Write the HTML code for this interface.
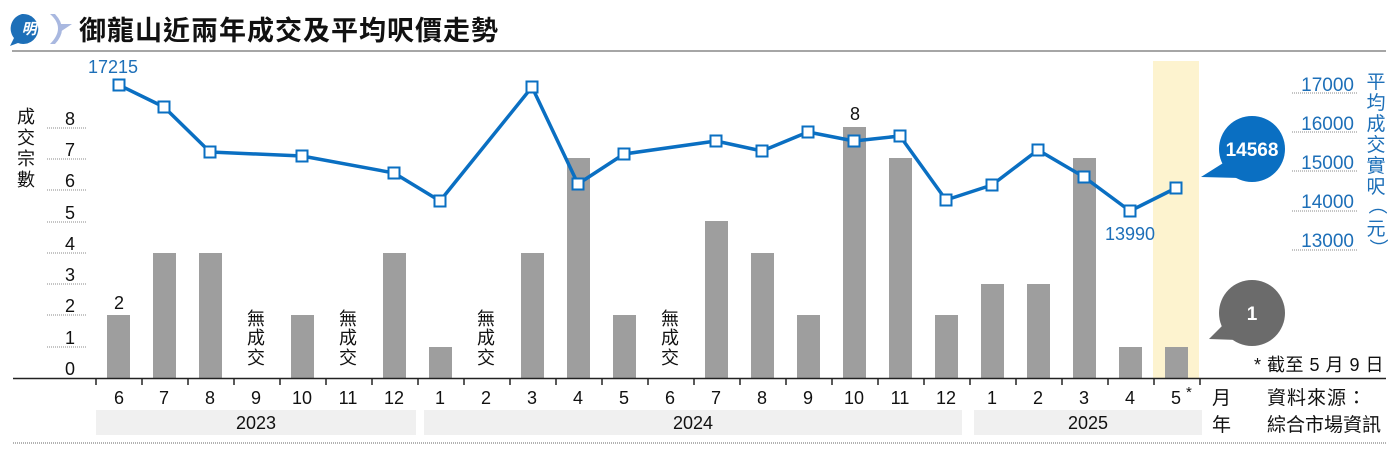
<!DOCTYPE html>
<html><head><meta charset="utf-8"><style>
html,body{margin:0;padding:0;background:#fff;}
svg{display:block;font-family:"Liberation Sans","Noto Sans CJK TC",sans-serif;}
</style></head><body>
<svg width="1400" height="455" viewBox="0 0 1400 455" xmlns="http://www.w3.org/2000/svg">
<!-- header -->
<path d="M22 14 a15 15 0 1 1 -4 29 l-8 3 l4 -8 a15 15 0 0 1 8 -24z" fill="#1d6fb8"/>
<text x="29" y="34" font-size="15" font-weight="bold" fill="#fff" text-anchor="middle" font-style="italic">明</text>
<path d="M50 14 q16 14 0 30 l5 0 q14 -15 0 -30z" fill="#a9b8e0"/>
<path d="M60 24 l12 0 l-12 8z" fill="#a9b8e0"/>
<text x="79" y="40" font-size="27" font-weight="bold" fill="#111" letter-spacing="1">御龍山近兩年成交及平均呎價走勢</text>
<line x1="12" y1="51" x2="1386" y2="51" stroke="#888" stroke-width="1.5"/>
<!-- highlight -->
<rect x="1153" y="61" width="46" height="317" fill="#fdf3cf"/>
<!-- left axis -->
<g font-size="18" fill="#111" text-anchor="middle">
<text x="26" y="123">成</text><text x="26" y="144">交</text><text x="26" y="165">宗</text><text x="26" y="186">數</text>
</g>
<g stroke="#888" stroke-width="1" stroke-dasharray="1,1">
<line x1="47" y1="128" x2="86" y2="128"/><line x1="47" y1="159" x2="86" y2="159"/><line x1="47" y1="190" x2="86" y2="190"/><line x1="47" y1="222" x2="86" y2="222"/><line x1="47" y1="253" x2="86" y2="253"/><line x1="47" y1="284" x2="86" y2="284"/><line x1="47" y1="315" x2="86" y2="315"/><line x1="47" y1="347" x2="86" y2="347"/>
</g>
<g font-size="18" fill="#111" text-anchor="middle">
<text x="70" y="125">8</text><text x="70" y="156">7</text><text x="70" y="187">6</text><text x="70" y="219">5</text><text x="70" y="250">4</text><text x="70" y="281">3</text><text x="70" y="312">2</text><text x="70" y="344">1</text><text x="70" y="375">0</text>
</g>
<!-- bars -->
<g fill="#9e9e9e">
<rect x="107" y="315" width="23" height="63"/>
<rect x="153" y="253" width="23" height="125"/>
<rect x="199" y="253" width="23" height="125"/>
<rect x="291" y="315" width="23" height="63"/>
<rect x="383" y="253" width="23" height="125"/>
<rect x="429" y="347" width="23" height="31"/>
<rect x="521" y="253" width="23" height="125"/>
<rect x="567" y="158" width="23" height="220"/>
<rect x="613" y="315" width="23" height="63"/>
<rect x="705" y="221" width="23" height="157"/>
<rect x="751" y="253" width="23" height="125"/>
<rect x="797" y="315" width="23" height="63"/>
<rect x="843" y="127" width="23" height="251"/>
<rect x="889" y="158" width="23" height="220"/>
<rect x="935" y="315" width="23" height="63"/>
<rect x="981" y="284" width="23" height="94"/>
<rect x="1027" y="284" width="23" height="94"/>
<rect x="1073" y="158" width="23" height="220"/>
<rect x="1119" y="347" width="23" height="31"/>
<rect x="1165" y="347" width="23" height="31"/>
</g>
<g font-size="18" fill="#111" text-anchor="middle">
<text x="119" y="309">2</text><text x="855" y="120">8</text>
</g>
<g font-size="18" fill="#111" text-anchor="middle">
<text x="256" y="325">無</text><text x="256" y="344">成</text><text x="256" y="364">交</text>
<text x="348" y="325">無</text><text x="348" y="344">成</text><text x="348" y="364">交</text>
<text x="486" y="325">無</text><text x="486" y="344">成</text><text x="486" y="364">交</text>
<text x="670" y="325">無</text><text x="670" y="344">成</text><text x="670" y="364">交</text>
</g>
<!-- x axis -->
<line x1="13" y1="378.5" x2="1386" y2="378.5" stroke="#222" stroke-width="1.5"/>
<g stroke="#222" stroke-width="1.5">
<line x1="96" y1="378" x2="96" y2="385"/><line x1="142" y1="378" x2="142" y2="385"/><line x1="188" y1="378" x2="188" y2="385"/><line x1="234" y1="378" x2="234" y2="385"/><line x1="280" y1="378" x2="280" y2="385"/><line x1="326" y1="378" x2="326" y2="385"/><line x1="372" y1="378" x2="372" y2="385"/><line x1="418" y1="378" x2="418" y2="385"/><line x1="464" y1="378" x2="464" y2="385"/><line x1="510" y1="378" x2="510" y2="385"/><line x1="556" y1="378" x2="556" y2="385"/><line x1="602" y1="378" x2="602" y2="385"/><line x1="648" y1="378" x2="648" y2="385"/><line x1="694" y1="378" x2="694" y2="385"/><line x1="740" y1="378" x2="740" y2="385"/><line x1="786" y1="378" x2="786" y2="385"/><line x1="832" y1="378" x2="832" y2="385"/><line x1="878" y1="378" x2="878" y2="385"/><line x1="924" y1="378" x2="924" y2="385"/><line x1="970" y1="378" x2="970" y2="385"/><line x1="1016" y1="378" x2="1016" y2="385"/><line x1="1062" y1="378" x2="1062" y2="385"/><line x1="1108" y1="378" x2="1108" y2="385"/><line x1="1154" y1="378" x2="1154" y2="385"/><line x1="1200" y1="378" x2="1200" y2="385"/>
</g>
<g font-size="18" fill="#111" text-anchor="middle">
<text x="119" y="404">6</text><text x="164" y="404">7</text><text x="210" y="404">8</text><text x="256" y="404">9</text><text x="302" y="404">10</text><text x="348" y="404">11</text><text x="394" y="404">12</text><text x="440" y="404">1</text><text x="486" y="404">2</text><text x="532" y="404">3</text><text x="578" y="404">4</text><text x="624" y="404">5</text><text x="670" y="404">6</text><text x="716" y="404">7</text><text x="762" y="404">8</text><text x="808" y="404">9</text><text x="854" y="404">10</text><text x="900" y="404">11</text><text x="946" y="404">12</text><text x="992" y="404">1</text><text x="1038" y="404">2</text><text x="1084" y="404">3</text><text x="1130" y="404">4</text><text x="1176" y="404">5</text>
</g>
<text x="1186" y="397" font-size="15" fill="#111">*</text>
<text x="1212" y="404" font-size="19" fill="#111">月</text>
<text x="1212" y="431" font-size="19" fill="#111">年</text>
<g fill="#f0f0f0">
<rect x="96" y="410" width="320" height="25"/><rect x="424" y="410" width="538" height="25"/><rect x="974" y="410" width="228" height="25"/>
</g>
<g font-size="18" fill="#111" text-anchor="middle">
<text x="256" y="429">2023</text><text x="693" y="429">2024</text><text x="1088" y="429">2025</text>
</g>
<line x1="13" y1="443" x2="1386" y2="443" stroke="#999" stroke-width="1.5" stroke-dasharray="1,1"/>
<text x="1254" y="371" font-size="18" fill="#111" letter-spacing="0.5">* 截至 5 月 9 日</text>
<text x="1267" y="404" font-size="19" fill="#111" letter-spacing="1">資料來源：</text>
<text x="1267" y="431" font-size="19" fill="#111">綜合市場資訊</text>
<!-- right axis -->
<g stroke="#888" stroke-width="1" stroke-dasharray="1,1">
<line x1="1292" y1="93" x2="1358" y2="93"/><line x1="1292" y1="132" x2="1358" y2="132"/><line x1="1292" y1="171" x2="1358" y2="171"/><line x1="1292" y1="211" x2="1358" y2="211"/><line x1="1292" y1="250" x2="1358" y2="250"/>
</g>
<g font-size="19" fill="#1d6fb8" text-anchor="end">
<text x="1354" y="91">17000</text><text x="1354" y="130">16000</text><text x="1354" y="169">15000</text><text x="1354" y="208">14000</text><text x="1354" y="247">13000</text>
</g>
<g font-size="19" fill="#1d6fb8" text-anchor="middle">
<text x="1376" y="88">平</text><text x="1376" y="109">均</text><text x="1376" y="130">成</text><text x="1376" y="151">交</text><text x="1376" y="172">實</text><text x="1376" y="193">呎</text><text x="1376" y="210" transform="rotate(90 1376 205)">（</text><text x="1376" y="235">元</text><text x="1376" y="252" transform="rotate(90 1376 248)">）</text>
</g>
<!-- line -->
<polyline fill="none" stroke="#0a6fc2" stroke-width="3.5" stroke-linejoin="round" points="119,85 164,107 210,152 302,156 394,173 440,201 532,87 578,184 624,154 716,141 762,151 808,132 854,141 900,136 946,200 992,185 1038,150 1084,177 1130,211 1176,188"/>
<g fill="#fff" stroke="#0a6fc2" stroke-width="2">
<rect x="113.5" y="79.5" width="11" height="11"/><rect x="158.5" y="101.5" width="11" height="11"/><rect x="204.5" y="146.5" width="11" height="11"/><rect x="296.5" y="150.5" width="11" height="11"/><rect x="388.5" y="167.5" width="11" height="11"/><rect x="434.5" y="195.5" width="11" height="11"/><rect x="526.5" y="81.5" width="11" height="11"/><rect x="572.5" y="178.5" width="11" height="11"/><rect x="618.5" y="148.5" width="11" height="11"/><rect x="710.5" y="135.5" width="11" height="11"/><rect x="756.5" y="145.5" width="11" height="11"/><rect x="802.5" y="126.5" width="11" height="11"/><rect x="848.5" y="135.5" width="11" height="11"/><rect x="894.5" y="130.5" width="11" height="11"/><rect x="940.5" y="194.5" width="11" height="11"/><rect x="986.5" y="179.5" width="11" height="11"/><rect x="1032.5" y="144.5" width="11" height="11"/><rect x="1078.5" y="171.5" width="11" height="11"/><rect x="1124.5" y="205.5" width="11" height="11"/><rect x="1170.5" y="182.5" width="11" height="11"/>
</g>
<g font-size="18" fill="#1d6fb8" text-anchor="middle">
<text x="113" y="73">17215</text><text x="1130" y="240">13990</text>
</g>
<!-- bubbles -->
<path d="M1201 177 L1228 160 L1240 178z" fill="#0a6fc2"/>
<circle cx="1252" cy="149" r="33" fill="#0a6fc2"/>
<text x="1252" y="156" font-size="19" font-weight="bold" fill="#fff" text-anchor="middle">14568</text>
<path d="M1209 339 L1226 322 L1238 340z" fill="#6b6b6b"/>
<circle cx="1252" cy="313" r="33" fill="#6b6b6b"/>
<text x="1252" y="320" font-size="19" font-weight="bold" fill="#fff" text-anchor="middle">1</text>
</svg>
</body></html>
